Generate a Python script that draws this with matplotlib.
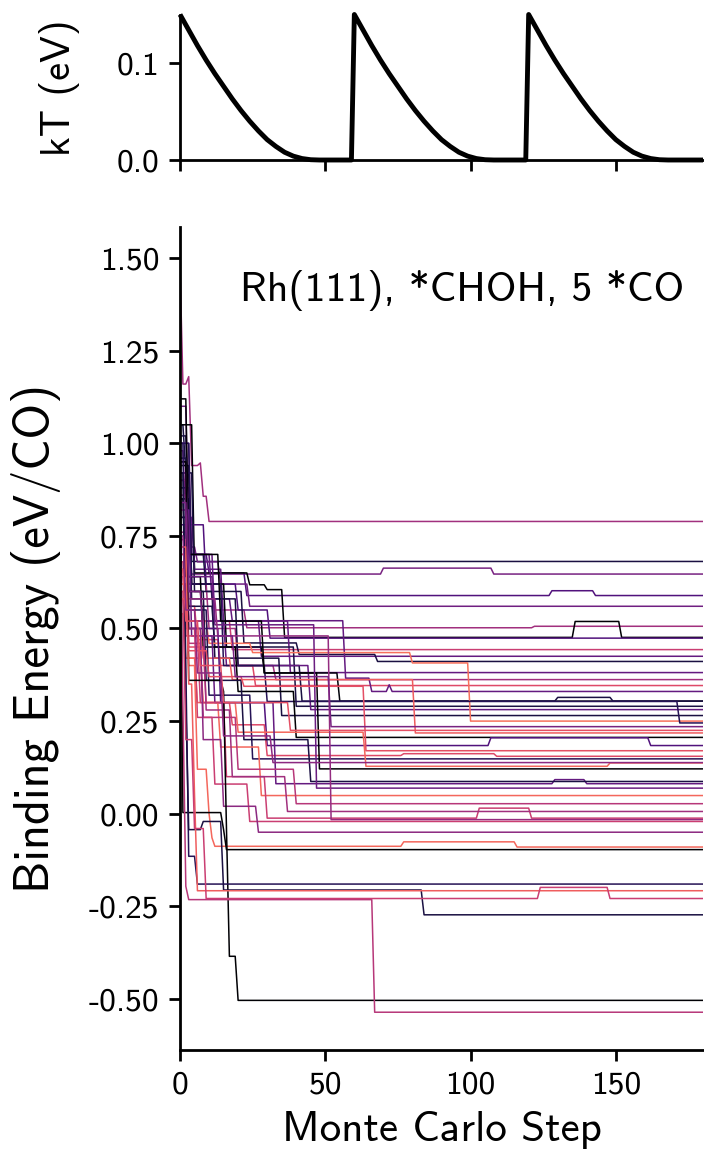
import numpy as np
import matplotlib
matplotlib.use("Agg")
import matplotlib.pyplot as plt

plt.rcParams['font.family'] = ['cmss10', 'DejaVu Sans']
plt.rcParams['axes.unicode_minus'] = False
plt.rcParams['axes.formatter.use_mathtext'] = False

# ---------------- data ----------------
n_steps = 181  # Monte Carlo steps 0..180

# kT schedule (one annealing cycle), repeated every 60 steps
kT_cycle_steps = [0, 3, 6, 9, 12, 15, 18, 21, 24, 27, 30, 33, 36, 39, 42, 45, 48, 52, 56, 59]
kT_cycle_values = [0.150, 0.134, 0.118, 0.103, 0.089, 0.076, 0.063, 0.051, 0.040, 0.030,
                   0.021, 0.014, 0.008, 0.004, 0.0015, 0.0003, 0.0, 0.0, 0.0, 0.0]
kT_cycle_starts = [0, 60, 120]
kT_end_step = 180
kT_end_value = 0.0

# Binding-energy trajectories: (step, value) change points; value holds until next change
traj_knots = [
    [(0, 1.48), (1, 1.16), (3, 1.18), (4, 0.94), (7, 0.947), (8, 0.857), (10, 0.789)],
    [(0, 1.05), (2, 0.92), (4, 0.681)],
    [(0, 0.98), (2, 0.80), (4, 0.647), (70, 0.663), (108, 0.647)],
    [(0, 0.90), (3, 0.70), (10, 0.65), (23, 0.589), (128, 0.602), (143, 0.589)],
    [(0, 1.10), (3, 0.72), (6, 0.68), (14, 0.62), (24, 0.560)],
    [(0, 0.85), (4, 0.62), (12, 0.55), (23, 0.502), (122, 0.506)],
    [(0, 1.05), (5, 0.650), (24, 0.618), (30, 0.605), (36, 0.476), (136, 0.519), (152, 0.476)],
    [(0, 0.95), (3, 0.78), (9, 0.62), (20, 0.55), (31, 0.474)],
    [(0, 0.72), (3, 0.60), (8, 0.52), (18, 0.443)],
    [(0, 0.80), (5, 0.66), (15, 0.52), (28, 0.425)],
    [(0, 1.02), (3, 0.70), (9, 0.60), (22, 0.461), (41, 0.430), (68, 0.411)],
    [(0, 0.88), (4, 0.70), (11, 0.58), (18, 0.52), (38, 0.381)],
    [(0, 0.76), (3, 0.62), (10, 0.50), (20, 0.40), (33, 0.362)],
    [(0, 0.66), (2, 0.56), (6, 0.47), (14, 0.40), (26, 0.346)],
    [(0, 1.00), (4, 0.70), (12, 0.521), (57, 0.366), (66, 0.330), (72, 0.348), (73, 0.330)],
    [(0, 0.94), (4, 0.62), (16, 0.45), (29, 0.38), (55, 0.304)],
    [(0, 0.85), (4, 0.58), (20, 0.40), (42, 0.304), (130, 0.314), (149, 0.304)],
    [(0, 0.80), (3, 0.56), (12, 0.45), (40, 0.290)],
    [(0, 0.70), (3, 0.52), (16, 0.40), (45, 0.281)],
    [(0, 0.92), (5, 0.60), (12, 0.42), (35, 0.265)],
    [(0, 0.62), (3, 0.52), (10, 0.46), (25, 0.435), (80, 0.407), (100, 0.250)],
    [(0, 1.00), (4, 0.62), (15, 0.40), (30, 0.303), (172, 0.245)],
    [(0, 0.58), (2, 0.50), (8, 0.42), (18, 0.362), (81, 0.218)],
    [(0, 0.85), (2, 0.64), (8, 0.45), (20, 0.33), (40, 0.206)],
    [(0, 0.78), (3, 0.50), (14, 0.30), (30, 0.184), (107, 0.205), (162, 0.184)],
    [(0, 0.70), (3, 0.45), (9, 0.30), (18, 0.24), (30, 0.157), (77, 0.162), (109, 0.155)],
    [(0, 0.88), (3, 0.55), (10, 0.32), (25, 0.148)],
    [(0, 0.60), (3, 0.42), (8, 0.30), (20, 0.22), (64, 0.128), (148, 0.137)],
    [(0, 1.12), (3, 0.70), (14, 0.52), (29, 0.38), (48, 0.121)],
    [(0, 0.82), (4, 0.48), (12, 0.30), (33, 0.081), (129, 0.092), (140, 0.081)],
    [(0, 0.96), (3, 0.60), (9, 0.36), (22, 0.20), (45, 0.087)],
    [(0, 0.92), (3, 0.64), (12, 0.51), (47, 0.069)],
    [(0, 0.54), (2, 0.42), (6, 0.30), (14, 0.18), (28, 0.049)],
    [(0, 0.74), (3, 0.46), (8, 0.26), (20, 0.12), (40, 0.027)],
    [(0, 0.64), (2, 0.48), (7, 0.30), (16, 0.10), (30, -0.012), (103, 0.015), (121, -0.012)],
    [(0, 0.82), (3, 0.52), (9, 0.28), (18, 0.10), (37, 0.006)],
    [(0, 0.86), (3, 0.58), (13, 0.48), (52, -0.016)],
    [(0, 0.68), (2, 0.50), (6, 0.26), (12, 0.08), (24, -0.021)],
    [(0, 0.90), (3, 0.50), (8, 0.20), (15, 0.02), (27, -0.050)],
    [(0, 0.62), (3, 0.40), (6, 0.12), (10, 0.0), (11, -0.065), (12, -0.088), (77, -0.076), (116, -0.090)],
    [(0, 1.10), (1, 0.003), (15, -0.043), (16, -0.097)],
    [(0, 0.95), (3, 0.36), (15, 0.33), (16, -0.043), (17, -0.385), (19, -0.385), (20, -0.504)],
    [(0, 1.00), (2, 0.40), (3, -0.115), (6, -0.190)],
    [(0, 0.92), (2, 0.30), (3, -0.043), (8, -0.021), (15, -0.206), (84, -0.273)],
    [(0, 0.72), (3, 0.35), (5, 0.05), (6, -0.208)],
    [(0, 0.78), (1, 0.30), (2, -0.196), (3, -0.232), (67, -0.536)],
    [(0, 0.60), (2, 0.20), (5, -0.04), (9, -0.229), (124, -0.199), (148, -0.229)],
    [(0, 0.58), (3, 0.44), (10, 0.37), (22, 0.344), (64, 0.170)],
    [(0, 0.84), (3, 0.60), (8, 0.48), (19, 0.37), (52, 0.235)],
    [(0, 0.66), (2, 0.52), (7, 0.40), (15, 0.30), (38, 0.225)],
    [(0, 0.75), (2, 0.55), (6, 0.38), (15, 0.21), (32, 0.138)],
]
# position of each trajectory's colour in the magma colormap
traj_shades = [
    0.45, 0.12, 0.35, 0.25, 0.33, 0.45, 0.00, 0.25, 0.55, 0.30,
    0.12, 0.30, 0.45, 0.60, 0.30, 0.02, 0.12, 0.12, 0.30, 0.12,
    0.70, 0.15, 0.66, 0.00, 0.25, 0.60, 0.15, 0.68, 0.00, 0.30,
    0.12, 0.32, 0.68, 0.50, 0.55, 0.45, 0.42, 0.55, 0.40, 0.68,
    0.00, 0.00, 0.15, 0.12, 0.66, 0.50, 0.55, 0.62, 0.35, 0.62,
    0.40,
]

x_ticks = [0, 50, 100, 150]
kT_yticks = [0.0, 0.1]
be_yticks = [-0.50, -0.25, 0.00, 0.25, 0.50, 0.75, 1.00, 1.25, 1.50]
label_text = "Rh(111), *CHOH, 5 *CO"

# ---------------- figure ----------------
W, H = 704, 1171
fig = plt.figure(figsize=(W / 100, H / 100), dpi=100)
ax_top = fig.add_axes([180 / W, 1 - 160 / H, 523 / W, 145.5 / H])
ax = fig.add_axes([180 / W, 1 - 1050 / H, 523 / W, 823 / H])

# kT panel
kx, ky = [], []
for s0 in kT_cycle_starts:
    kx += [s0 + s for s in kT_cycle_steps]
    ky += kT_cycle_values
kx.append(kT_end_step)
ky.append(kT_end_value)
ax_top.plot(kx, ky, color='black', lw=3.5, clip_on=False, solid_capstyle='butt')
ax_top.set_xlim(0, 180)
ax_top.set_ylim(0, 0.15)
ax_top.set_xticks(x_ticks)
ax_top.set_xticklabels([])
ax_top.set_yticks(kT_yticks)
ax_top.set_yticklabels(['0.0', '0.1'])
ax_top.set_ylabel('kT (eV)', fontsize=29, labelpad=26)

# binding energy panel
steps = np.arange(n_steps)
cmap = matplotlib.colormaps['magma']
for knots, shade in zip(traj_knots, traj_shades):
    vals = np.empty(n_steps)
    for s, v in knots:
        vals[s:] = v
    ax.plot(steps, vals, color=cmap(shade), lw=1.1)

ax.set_xlim(0, 180)
ax.set_ylim(-0.638, 1.584)
ax.set_xticks(x_ticks)
ax.set_yticks(be_yticks)
ax.set_yticklabels(['%.2f' % t for t in be_yticks])
ax.set_xlabel('Monte Carlo Step', fontsize=31, labelpad=8)
ax.set_ylabel('Binding Energy (eV/CO)', fontsize=35, labelpad=20)
ax.text(0.965, 0.923, label_text, transform=ax.transAxes, ha='right', va='center', fontsize=30)

for a in (ax_top, ax):
    a.spines['top'].set_visible(False)
    a.spines['right'].set_visible(False)
    for sp in ('left', 'bottom'):
        a.spines[sp].set_linewidth(2.0)
    a.tick_params(axis='both', which='major', labelsize=24, length=8, width=2.0, pad=7)

fig.savefig('out.png', dpi=100)
